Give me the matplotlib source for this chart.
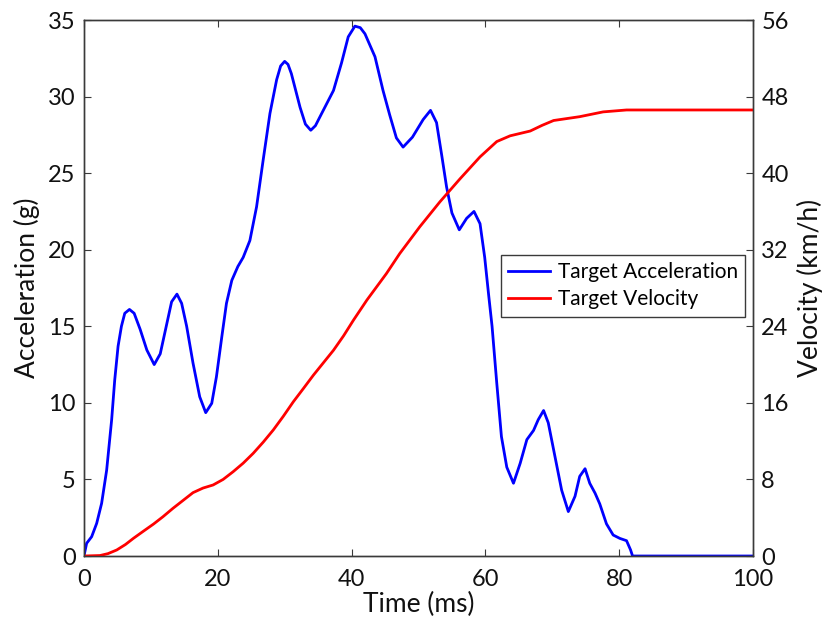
import matplotlib
import matplotlib.pyplot as plt

matplotlib.use("Agg")

# acceleration trace (g) vs time (ms)
acc_time = [0, 0.4, 1.15, 1.9, 2.64, 3.39, 4.14, 4.6, 5.1, 5.6, 6.1, 6.8, 7.5, 8.4,
            9.4, 10.5, 11.4, 12.3, 13.1, 13.9, 14.6, 15.35, 16.3, 17.3, 18.2, 19.1,
            19.8, 20.6, 21.3, 22.1, 23.0, 23.8, 24.8, 25.8, 26.8, 27.8, 28.8, 29.4,
            30.0, 30.5, 31.0, 32.3, 33.1, 33.9, 34.6, 35.3, 37.3, 38.5, 39.5, 40.5,
            41.3, 42.0, 43.5, 44.7, 45.7, 46.7, 47.7, 49.1, 50.7, 51.8, 52.7, 53.5,
            54.2, 55.0, 56.1, 57.2, 58.3, 59.2, 59.9, 60.5, 61.0, 61.7, 62.4, 63.2,
            64.2, 65.2, 66.2, 67.2, 67.9, 68.7, 69.4, 70.4, 71.4, 72.4, 73.4, 74.1,
            74.9, 75.6, 76.4, 77.1, 78.1, 79.1, 80.1, 81.1, 81.7, 82.0, 100.0]
acc_g = [0, 0.83, 1.26, 2.13, 3.44, 5.6, 8.9, 11.5, 13.7, 15.0, 15.85, 16.1, 15.85, 14.8,
         13.45, 12.5, 13.2, 15.0, 16.6, 17.1, 16.5, 15.0, 12.6, 10.4, 9.36, 9.97,
         11.7, 14.3, 16.5, 18.0, 18.9, 19.5, 20.6, 22.8, 25.9, 28.9, 31.1, 32.0,
         32.3, 32.1, 31.5, 29.3, 28.2, 27.8, 28.1, 28.7, 30.4, 32.2, 33.9, 34.6,
         34.5, 34.1, 32.6, 30.4, 28.8, 27.3, 26.7, 27.35, 28.5, 29.1, 28.3, 26.1,
         24.1, 22.4, 21.3, 22.05, 22.5, 21.7, 19.5, 17.0, 15.0, 11.3, 7.8, 5.8,
         4.75, 6.05, 7.6, 8.2, 8.9, 9.5, 8.7, 6.5, 4.3, 2.9, 3.9, 5.2,
         5.7, 4.75, 4.1, 3.4, 2.1, 1.37, 1.15, 1.0, 0.4, 0, 0]

# velocity trace (km/h) vs time (ms)
vel_time = [0, 2.4, 3.6, 4.9, 6.2, 7.4, 8.9, 10.4, 11.8, 13.3, 14.8, 16.3, 17.8,
            19.3, 20.8, 22.3, 23.8, 25.3, 26.8, 28.3, 29.8, 31.3, 32.8, 34.3, 35.8,
            37.3, 38.8, 40.3, 42.3, 45.2, 47.2, 50.2, 53.2, 56.2, 59.2, 61.7, 63.7,
            66.7, 68.5, 70.2, 74.1, 77.6, 81.1, 100.0]
vel_kmh = [0, 0.05, 0.25, 0.63, 1.2, 1.85, 2.6, 3.34, 4.1, 4.98, 5.8, 6.62, 7.1,
           7.42, 8.0, 8.81, 9.7, 10.73, 11.9, 13.17, 14.6, 16.12, 17.5, 18.9, 20.2,
           21.5, 23.0, 24.66, 26.75, 29.5, 31.6, 34.4, 37.0, 39.4, 41.7, 43.3, 43.9,
           44.4, 45.0, 45.5, 45.9, 46.4, 46.6, 46.6]

acc_ticks = [0, 5, 10, 15, 20, 25, 30, 35]
vel_ticks = [0, 8, 16, 24, 32, 40, 48, 56]
time_ticks = [0, 20, 40, 60, 80, 100]

plt.rcParams["font.family"] = ["Lato", "DejaVu Sans"]
axis_col = "#3a3a3a"

fig = plt.figure(figsize=(8.28, 6.35), dpi=100)
ax = fig.add_axes([0.1014, 0.1244, 0.808, 0.8441])
ax2 = ax.twinx()

(l1,) = ax.plot(acc_time, acc_g, color="#0000ff", lw=2.0, label="Target Acceleration",
                solid_joinstyle="round")
(l2,) = ax2.plot(vel_time, vel_kmh, color="#ff0000", lw=2.0, label="Target Velocity",
                 solid_joinstyle="round")

ax.set_xlim(0, 100)
ax.set_ylim(0, 35)
ax2.set_ylim(0, 56)
ax.set_xticks(time_ticks)
ax.set_yticks(acc_ticks)
ax2.set_yticks(vel_ticks)

ax.tick_params(axis="x", direction="in", top=True, length=5, colors=axis_col,
               labelcolor="#111111", labelsize=17, pad=9)
ax.tick_params(axis="y", direction="in", right=False, length=5, colors=axis_col,
               labelcolor="#111111", labelsize=17, pad=6)
ax2.tick_params(axis="y", direction="in", length=5, colors=axis_col,
                labelcolor="#111111", labelsize=17, pad=6)

for a in (ax, ax2):
    for s in a.spines.values():
        s.set_color(axis_col)
        s.set_linewidth(1.0)

ax.set_xlabel("Time (ms)", fontsize=19, color="#111111", labelpad=2)
ax.set_ylabel("Acceleration (g)", fontsize=19, color="#111111", labelpad=6)
ax2.set_ylabel("Velocity (km/h)", fontsize=19, color="#111111", labelpad=6)

leg = ax2.legend(handles=[l1, l2], loc="upper left", bbox_to_anchor=(0.623, 0.562),
                 fontsize=15, frameon=True, fancybox=False, framealpha=1,
                 edgecolor=axis_col, handlelength=2.0, handletextpad=0.4,
                 borderpad=0.35, labelspacing=0.35, borderaxespad=0)
leg.get_frame().set_linewidth(1.0)

fig.savefig("out.png", dpi=100)
